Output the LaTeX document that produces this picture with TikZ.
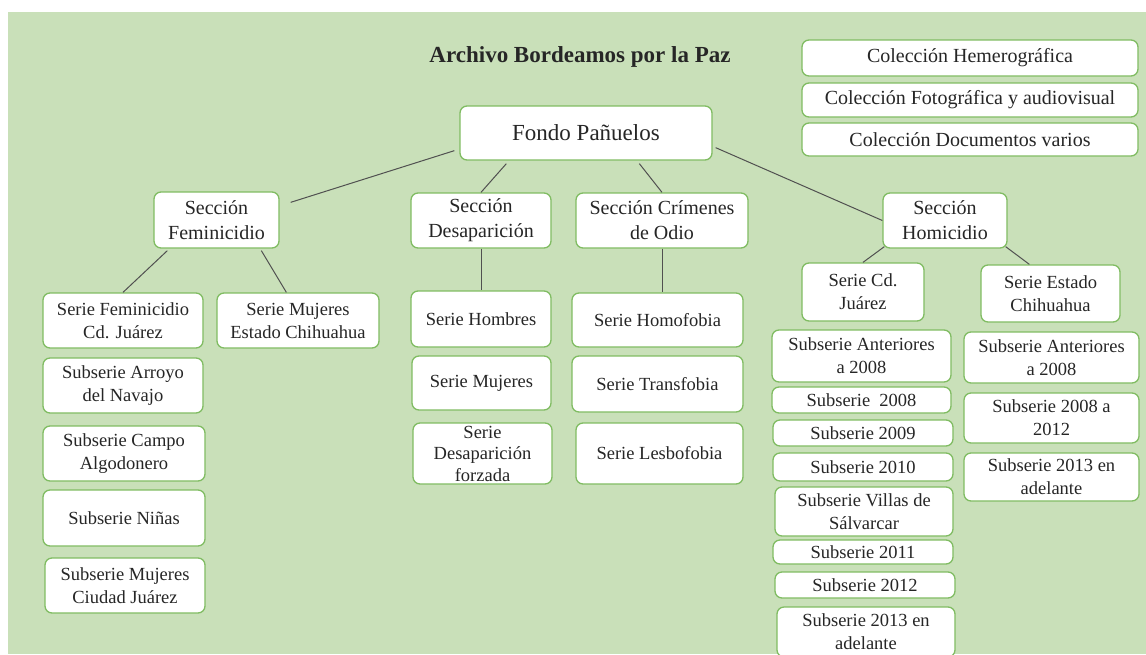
\documentclass[tikz,border=0pt]{standalone}
\usepackage{fontspec}
\setmainfont{Liberation Serif}
\usetikzlibrary{calc}
\definecolor{bg}{HTML}{C9E0B9}
\definecolor{bd}{HTML}{80BC62}
\definecolor{ln}{HTML}{505050}
\definecolor{tx}{HTML}{262626}
\begin{document}
\begin{tikzpicture}[x=1pt,y=-1pt,
  box/.style={draw=bd, line width=1.3pt, fill=white, rounded corners=7pt, inner sep=0pt, align=center, text=tx, font=\fontsize{18.5}{23}\selectfont},
  sbox/.style={box, font=\fontsize{20}{25}\selectfont},
  conn/.style={draw=ln, line width=1pt}]
\useasboundingbox (0,0) rectangle (1146,654);
\begin{scope}
\clip (0,0) rectangle (1146,654);
\fill[bg] (8,12) rectangle (1146,654);
% title
\node[text=tx, font=\fontsize{23}{28}\selectfont\bfseries] (title) at (580,57) {Archivo Bordeamos por la Paz};
% top
\node[box, font=\fontsize{23}{28}\selectfont, minimum width=252pt, minimum height=54pt] (fondo) at (586,133) {Fondo Pañuelos};
\node[sbox, minimum width=336pt, minimum height=36pt] (colH) at (970,58) {Colección Hemerográfica};
\node[sbox, minimum width=336pt, minimum height=34pt] (colF) at (970,100) {Colección Fotográfica y audiovisual};
\node[sbox, minimum width=336pt, minimum height=33pt] (colD) at (970,139.5) {Colección Documentos varios};
% sections
\node[sbox, minimum width=125pt, minimum height=56pt] (secF) at (216.5,220) {Sección\\Feminicidio};
\node[sbox, minimum width=140pt, minimum height=55pt] (secD) at (481,220.5) {Sección\\Desaparición};
\node[sbox, minimum width=172pt, minimum height=55pt] (secC) at (662,220.5) {Sección Crímenes\\de Odio};
\node[sbox, minimum width=124pt, minimum height=55pt] (secH) at (945,220.5) {Sección\\Homicidio};
% feminicidio
\node[box, minimum width=160pt, minimum height=55pt] (sfj) at (123,320.5) {Serie Feminicidio\\Cd. Juárez};
\node[box, minimum width=162pt, minimum height=55pt] (smec) at (298,320.5) {Serie Mujeres\\Estado Chihuahua};
\node[box, minimum width=160pt, minimum height=55pt] (arroyo) at (123,385.5) {Subserie Arroyo\\del Navajo};
\node[box, minimum width=162pt, minimum height=55pt] (campo) at (124,453.5) {Subserie Campo\\Algodonero};
\node[box, minimum width=162pt, minimum height=56pt] (ninas) at (124,518) {Subserie Niñas};
\node[box, minimum width=160pt, minimum height=55pt] (mcj) at (125,585.5) {Subserie Mujeres\\Ciudad Juárez};
% desaparicion
\node[box, minimum width=140pt, minimum height=56pt] (hombres) at (481,319) {Serie Hombres};
\node[box, minimum width=139pt, minimum height=54pt] (mujeres) at (481.5,383) {Serie Mujeres};
\node[box, font=\fontsize{18.5}{21.5}\selectfont, minimum width=139pt, minimum height=61pt] (forzada) at (482.5,453.5) {Serie\\Desaparición\\forzada};
% odio
\node[box, minimum width=171pt, minimum height=54pt] (homo) at (657.5,320) {Serie Homofobia};
\node[box, minimum width=171pt, minimum height=56pt] (trans) at (657.5,384) {Serie Transfobia};
\node[box, minimum width=167pt, minimum height=61pt] (lesbo) at (659.5,453.5) {Serie Lesbofobia};
% homicidio
\node[box, minimum width=122pt, minimum height=58pt] (scj) at (863,292) {Serie Cd.\\Juárez};
\node[box, minimum width=139pt, minimum height=57pt] (sec) at (1050.5,293.5) {Serie Estado\\Chihuahua};
\node[box, minimum width=179pt, minimum height=52pt] (ha08) at (861.5,356) {Subserie Anteriores\\a 2008};
\node[box, minimum width=179pt, minimum height=26pt] (h2008) at (861.5,400) {Subserie\ \ 2008};
\node[box, minimum width=180pt, minimum height=26pt] (h2009) at (863,433) {Subserie 2009};
\node[box, minimum width=180pt, minimum height=28pt] (h2010) at (863,467) {Subserie 2010};
\node[box, minimum width=178pt, minimum height=49pt] (villas) at (864,511.5) {Subserie Villas de\\Sálvarcar};
\node[box, minimum width=180pt, minimum height=24pt] (h2011) at (863,552) {Subserie 2011};
\node[box, minimum width=180pt, minimum height=26pt] (h2012) at (865,585) {Subserie 2012};
\node[box, minimum width=178pt, minimum height=50pt] (h2013) at (866,632) {Subserie 2013 en\\adelante};
\node[box, minimum width=175pt, minimum height=51pt] (ea08) at (1051.5,357.5) {Subserie Anteriores\\a 2008};
\node[box, minimum width=175pt, minimum height=50pt] (e0812) at (1051.5,418) {Subserie 2008 a\\2012};
\node[box, minimum width=175pt, minimum height=48pt] (e13) at (1051.5,477) {Subserie 2013 en\\adelante};
% connectors
\draw[conn] ($(fondo.south west)+(-5,-10)$) -- ($(secF.north east)+(11,11)$);
\draw[conn] ($(fondo.south west)+(47,3)$) -- (secD.north);
\draw[conn] ($(fondo.south west)+(180,3)$) -- (secC.north);
\draw[conn] ($(fondo.south east)+(3,-13)$) -- (secH.west);
\draw[conn] ($(secF.south west)+(14,2)$) -- (sfj.north);
\draw[conn] ($(secF.south west)+(108,2)$) -- ($(smec.north west)+(70,0)$);
\draw[conn] (secD.south) -- (hombres.north);
\draw[conn] (secC.south) -- (secC.south |- homo.north);
\draw[conn] ($(secH.south west)+(2,-2)$) -- (scj.north);
\draw[conn] ($(secH.south east)+(-2,-2)$) -- ($(sec.north west)+(49,0)$);
\end{scope}
\end{tikzpicture}
\end{document}
